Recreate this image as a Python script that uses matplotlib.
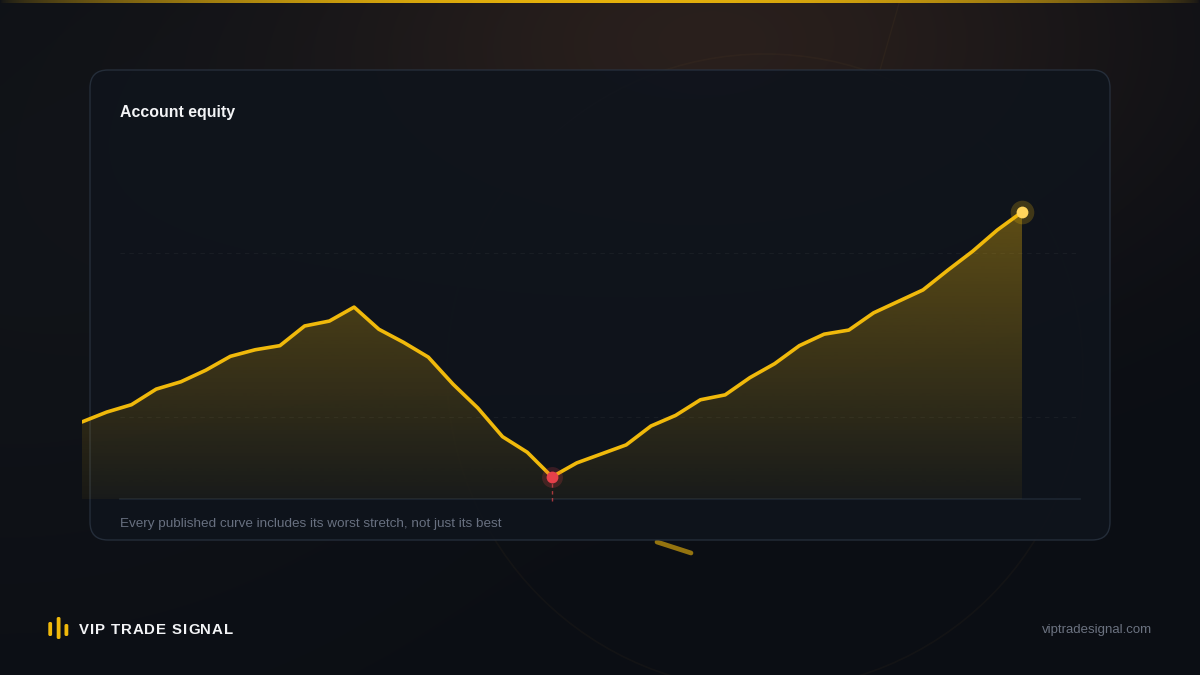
import numpy as np
import matplotlib
matplotlib.use("Agg")
import matplotlib.pyplot as plt
from matplotlib.patches import FancyBboxPatch, Circle
from matplotlib.lines import Line2D

# ---------------- data ----------------
title = "Account equity"
caption = "Every published curve includes its worst stretch, not just its best"
brand = "VIP TRADE SIGNAL"
site = "viptradesignal.com"

periods = list(range(39))
equity = [109.4, 110.6, 111.5, 113.4, 114.3, 115.7, 117.4, 118.2, 118.7, 121.1,
          121.7, 123.4, 120.7, 119.1, 117.3, 114.0, 111.1, 107.6, 105.7, 102.7,
          104.4, 105.5, 106.6, 108.9, 110.2, 112.1, 112.7, 114.8, 116.5, 118.7,
          120.1, 120.6, 122.7, 124.1, 125.5, 127.9, 130.2, 132.8, 135.0]
grid_levels = [110, 130]
y_floor = 100
y_top = 145

# ---------------- style ----------------
W, H = 1200, 675
GOLD = "#f0b90b"
GOLD_RGB = np.array([240, 185, 11]) / 255
RED = "#e5404a"
FONT = ["Liberation Sans", "DejaVu Sans"]
plt.rcParams["font.family"] = FONT

fig = plt.figure(figsize=(12, 6.75), dpi=100)
bg = fig.add_axes([0, 0, 1, 1])
bg.set_xlim(0, W)
bg.set_ylim(H, 0)
bg.axis("off")

# background with warm glow
yy, xx = np.mgrid[0:H, 0:W]
img = np.ones((H, W, 3)) * (np.array([11, 14, 20]) / 255)
d = ((xx - 720) / 470.0) ** 2 + ((yy - 40) / 270.0) ** 2
glow = np.exp(-d * 1.3)
img += glow[..., None] * (np.array([30, 17, 8]) / 255)
d2 = ((xx - 0) / 500.0) ** 2 + ((yy - 250) / 400.0) ** 2
img += np.exp(-d2)[..., None] * (np.array([5, 5, 4]) / 255)
bg.imshow(np.clip(img, 0, 1), extent=(0, W, H, 0), aspect="auto", zorder=0,
          interpolation="bilinear")

# faint decorative ring and strokes
bg.add_patch(Circle((765, 372), 318, fill=False, ec=(0.6, 0.45, 0.2, 0.06), lw=1.2, zorder=1))
bg.add_line(Line2D([900, 880], [0, 70], color=(0.6, 0.45, 0.2, 0.07), lw=1.0, zorder=1))
bg.add_line(Line2D([657, 691], [542, 553], color=(0.94, 0.72, 0.05, 0.6), lw=3.4,
                   solid_capstyle="round", zorder=1))

# top gold line
xs = np.linspace(0, 1, W)
top = np.zeros((1, W, 4))
top[..., :3] = GOLD_RGB
top[0, :, 3] = np.clip(np.sin(np.pi * xs) ** 0.6, 0, 1) * 0.95
bg.imshow(top, extent=(0, W, 3, 0), aspect="auto", zorder=1)

# panel
panel = FancyBboxPatch((90, 70), 1020, 470, boxstyle="round,pad=0,rounding_size=18",
                       fc=(15 / 255, 20 / 255, 28 / 255, 0.92),
                       ec=(42 / 255, 52 / 255, 66 / 255, 0.8), lw=1.0, zorder=2)
bg.add_patch(panel)
bg.add_line(Line2D([120, 1080], [499, 499], color="#1d2631", lw=1.2, zorder=3))

# ---------------- chart axes ----------------
x0_px, x_last_px, x_right_px = 82, 1022, 1080
px_per_unit = (x_last_px - x0_px) / (len(periods) - 1)
x_max = (x_right_px - x0_px) / px_per_unit
ax = fig.add_axes([x0_px / W, 1 - 499 / H, (x_right_px - x0_px) / W, (499 - 130) / H])
ax.set_facecolor("none")
ax.axis("off")

grid_x0 = (120 - x0_px) / px_per_unit
for g in grid_levels:
    ax.hlines(g, grid_x0, x_max, colors=[(1, 1, 1, 0.045)], linestyles=(0, (4, 4)), lw=0.8, zorder=0)

poly = ax.fill_between(periods, equity, y_floor, color="none", lw=0)
vals = np.linspace(y_floor, y_top, 300)
grad = np.zeros((300, 1, 4))
grad[..., :3] = GOLD_RGB
grad[:, 0, 3] = np.clip(0.05 + 0.30 * (vals - y_floor) / (equity[-1] - y_floor), 0, 0.4)
im = ax.imshow(grad, extent=(0, periods[-1], y_floor, y_top), origin="lower",
               aspect="auto", zorder=1, interpolation="bilinear")
im.set_clip_path(poly.get_paths()[0], transform=ax.transData)

ax.plot(periods, equity, color=GOLD, lw=2.6, solid_joinstyle="round",
        solid_capstyle="round", zorder=3)

i_min = int(np.argmin(equity))
ax.vlines(periods[i_min], y_floor - 0.2, equity[i_min], colors=[(0.9, 0.28, 0.3, 0.7)],
          linestyles=(0, (2.5, 2.5)), lw=1.0, zorder=2, clip_on=False)
ax.plot(periods[i_min], equity[i_min], "o", ms=15, color=RED, alpha=0.2, mec="none", zorder=4)
ax.plot(periods[i_min], equity[i_min], "o", ms=8.5, color=RED, mec="none", zorder=5)

ax.plot(periods[-1], equity[-1], "o", ms=17, color=GOLD, alpha=0.22, mec="none", zorder=4, clip_on=False)
ax.plot(periods[-1], equity[-1], "o", ms=8.5, color="#ffd45c", mec="none", zorder=5, clip_on=False)

ax.set_xlim(0, x_max)
ax.set_ylim(y_floor, y_top)

# ---------------- text ----------------
bg.text(120, 112.5, title, fontsize=11.4, fontweight="bold", color="#f3f4f6", va="center", zorder=5)
bg.text(120, 523.5, caption, fontsize=9.7, color="#687080", va="center", zorder=5)
bg.text(1152, 630, site, fontsize=9.5, color="#6b7280", va="center", ha="right", zorder=5)

# logo bars
for bx, by, bh in [(48.3, 622, 14), (56.7, 617, 22), (64.5, 624, 12)]:
    bg.add_patch(FancyBboxPatch((bx, by), 3.8, bh, boxstyle="round,pad=0,rounding_size=1.6",
                                fc=GOLD, ec="none", zorder=5))

# brand with letter spacing
fig.canvas.draw()
renderer = fig.canvas.get_renderer()
kw = dict(fontsize=10.8, fontweight="bold", color="#f3f4f6", va="center", zorder=5)
ref = bg.text(0, 0, "|", **kw)
w_ref = ref.get_window_extent(renderer).width
ref.remove()
cx = 79
for ch in brand:
    bg.text(cx, 630, ch, ha="left", **kw)
    t = bg.text(0, 0, ch + "|", **kw)
    w = t.get_window_extent(renderer).width - w_ref
    t.remove()
    cx += w + 0.9

fig.savefig("out.png", dpi=100)
